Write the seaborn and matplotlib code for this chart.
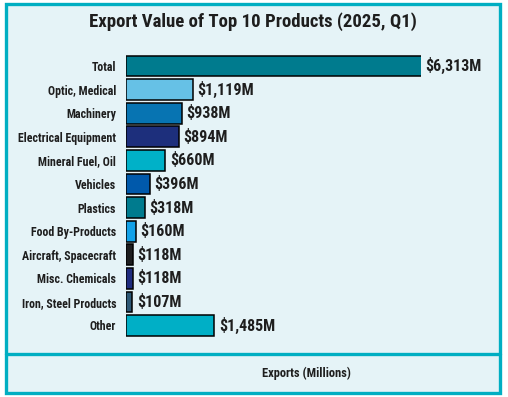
import matplotlib
matplotlib.use("Agg")
import matplotlib.pyplot as plt
from matplotlib.patches import Rectangle
import seaborn as sns

# data
products = ["Total", "Optic, Medical", "Machinery", "Electrical Equipment",
            "Mineral Fuel, Oil", "Vehicles", "Plastics", "Food By-Products",
            "Aircraft, Spacecraft", "Misc. Chemicals", "Iron, Steel Products", "Other"]
values = [6313, 1119, 938, 894, 660, 396, 318, 160, 118, 118, 107, 1485]
labels = ["$6,313M", "$1,119M", "$938M", "$894M", "$660M", "$396M",
          "$318M", "$160M", "$118M", "$118M", "$107M", "$1,485M"]
colors = ["#007b8e", "#66c1e6", "#0774b2", "#1d2f7c", "#00b1c8", "#0059ab",
          "#007b8e", "#12a1e8", "#1d1d1f", "#1e2b7e", "#2e5876", "#00afc6"]

bg = "#e5f3f7"
border = "#00aec2"
ink = "#1e1e1e"

sns.set_theme(style="white")
plt.rcParams["font.family"] = ["Roboto Condensed", "DejaVu Sans"]

fig = plt.figure(figsize=(5.08, 3.97), dpi=100)
fig.patch.set_facecolor("white")

# panel background + frame
fig.patches.append(Rectangle((6 / 508, 4 / 397), 494 / 508, 389 / 397,
                             transform=fig.transFigure, facecolor=bg,
                             edgecolor=border, linewidth=2.4, zorder=-2))
fig.add_artist(plt.Line2D([6 / 508, 500 / 508], [43 / 397, 43 / 397],
                          transform=fig.transFigure, color=border, linewidth=2.4,
                          zorder=-1))

ax = fig.add_axes([0.248, 0.1504, 0.5807, 0.7131])
ax.set_facecolor("none")

sns.barplot(x=values, y=products, hue=products, palette=colors, legend=False,
            orient="h", width=0.88, saturation=1, edgecolor="black",
            linewidth=1.1, ax=ax)

xmax = 4950  # Total bar is cut short in the original chart
ax.set_xlim(0, xmax)
ax.set_ylim(11.5, -0.5)

for i, (v, lab) in enumerate(zip(values, labels)):
    ax.annotate(lab, (min(v, xmax), i), xytext=(3.2, 0), textcoords="offset points",
                va="center", ha="left", fontsize=11.5, fontweight="bold",
                color=ink, annotation_clip=False)

sns.despine(ax=ax, left=True, bottom=True)
ax.set_xticks([])
ax.tick_params(axis="y", length=0, pad=7)
for t in ax.get_yticklabels():
    t.set_fontsize(8.6)
    t.set_fontweight("bold")
    t.set_color(ink)
ax.set_ylabel("")
ax.set_xlabel("")

fig.text(306 / 508, 0.06, "Exports (Millions)", ha="center", va="center",
         fontsize=9, fontweight="bold", color=ink)
fig.text(253 / 508, 0.946, "Export Value of Top 10 Products (2025, Q1)",
         ha="center", va="center", fontsize=13.5, fontweight="bold", color=ink)

fig.savefig("out.png", dpi=100, facecolor=fig.get_facecolor())
